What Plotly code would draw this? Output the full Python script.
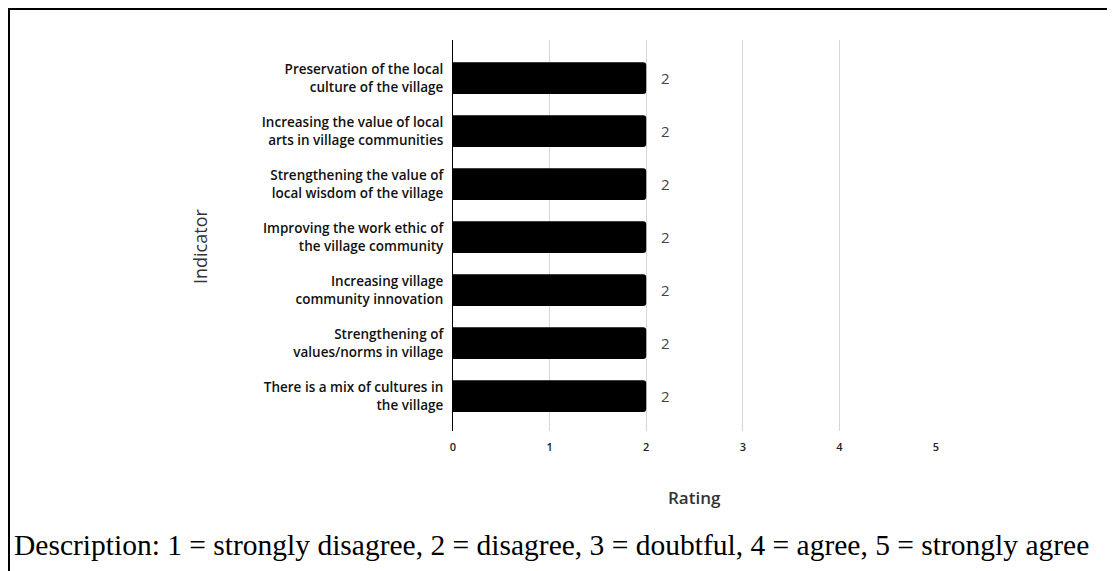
import plotly.graph_objects as go

indicators = [
    "Preservation of the local<br>culture of the village",
    "Increasing the value of local<br>arts in village communities",
    "Strengthening the value of<br>local wisdom of the village",
    "Improving the work ethic of<br>the village community",
    "Increasing village<br>community innovation",
    "Strengthening of<br>values/norms in village",
    "There is a mix of cultures in<br>the village",
]
ratings = [2, 2, 2, 2, 2, 2, 2]
x_ticks = [0, 1, 2, 3, 4, 5]
x_title = "Rating"
y_title = "Indicator"
description = "Description: 1 = strongly disagree, 2 = disagree, 3 = doubtful, 4 = agree, 5 = strongly agree"

# page has an 8px body margin; figure is sized to fill the rest of the window
W, H = 1107, 563
L, R, T, B = 445, 179, 32, 140
pw, ph = W - L - R, H - T - B


def px(page_x):
    return (page_x - 8 - L) / pw


def py(page_y):
    return (H - B - (page_y - 8)) / ph


fig = go.Figure(go.Bar(
    x=ratings, y=indicators, orientation="h",
    marker=dict(color="#000000", line=dict(width=0)),
    width=0.6,
    texttemplate="\u00a0\u00a0\u00a0%{x}", textposition="outside",
    textfont=dict(family="Open Sans", size=15, color="#444444"),
    cliponaxis=False,
))

fig.update_layout(
    width=W, height=H,
    margin=dict(l=L, r=R, t=T, b=B),
    paper_bgcolor="white", plot_bgcolor="white",
    barcornerradius=3,
    showlegend=False,
    xaxis=dict(range=[0, 5], tickvals=x_ticks, showgrid=True, gridcolor="#d6d6d6", gridwidth=1,
               zeroline=False, showline=False, ticks="", ticklabelstandoff=8,
               tickfont=dict(family="Open Sans", size=11, color="#222222", weight=600)),
    yaxis=dict(range=[6.66, -0.72], showline=True, linecolor="#000000", linewidth=1,
               showgrid=False, ticks="", ticklabelstandoff=6,
               tickfont=dict(family="Open Sans", size=13.5, color="#111111", weight=600)),
    annotations=[
        dict(text=y_title, x=px(200), y=py(247), xref="paper", yref="paper",
             xanchor="center", yanchor="middle",
             textangle=-90, showarrow=False, font=dict(family="Open Sans", size=18, color="#333333")),
        dict(text=x_title, x=px(694), y=py(497), xref="paper", yref="paper",
             xanchor="center", yanchor="middle",
             showarrow=False, font=dict(family="Open Sans", size=17, color="#333333", weight=600)),
        dict(text=description, x=px(12), y=py(545), xref="paper", yref="paper",
             xanchor="left", yanchor="middle", showarrow=False,
             font=dict(family="Liberation Serif", size=29.5, color="#000000")),
    ],
    shapes=[
        dict(type="line", xref="paper", yref="paper",
             x0=px(7), x1=px(1130), y0=py(8.5), y1=py(8.5),
             line=dict(color="black", width=3)),
        dict(type="line", xref="paper", yref="paper",
             x0=px(8.5), x1=px(8.5), y0=py(7), y1=py(600),
             line=dict(color="black", width=3)),
    ],
)

fig.write_html("out.html")
